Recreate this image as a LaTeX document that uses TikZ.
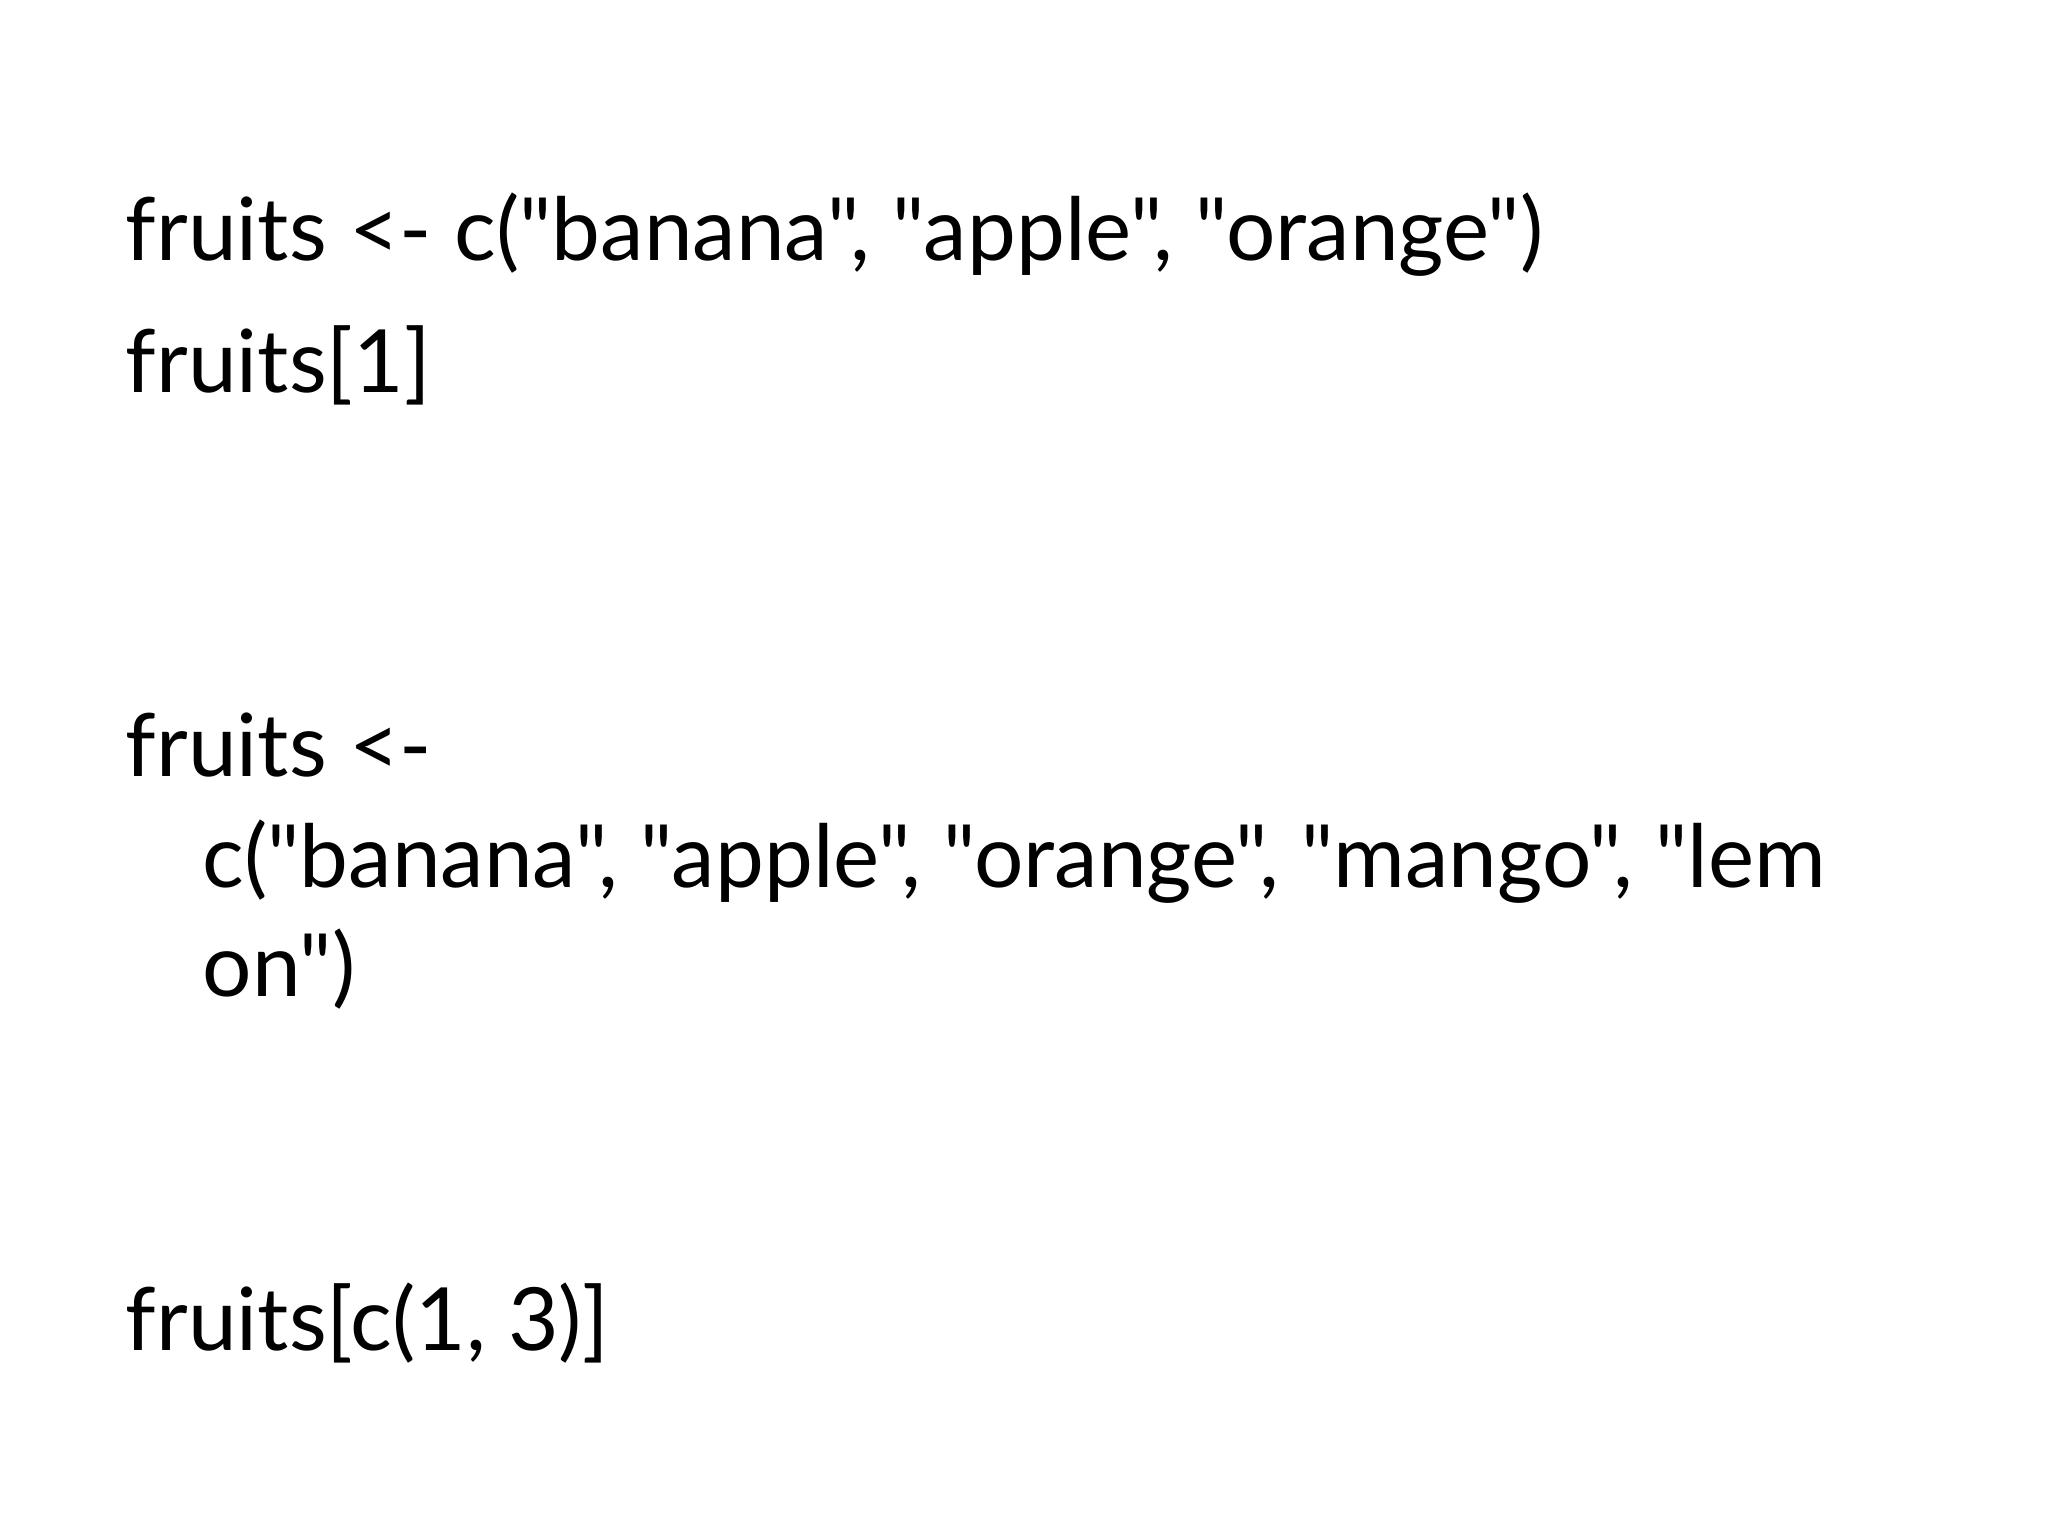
\documentclass[tikz,border=0pt]{standalone}
\usepackage{fontspec}
\setmainfont[Ligatures=TeXOff]{Lato}
\begin{document}
\begin{tikzpicture}[x=0.6606pt,y=-0.6606pt,
  code/.style={anchor=base west,inner sep=0pt,font=\fontsize{43.6}{52}\selectfont}]
\useasboundingbox (0,0) rectangle (1550,1162.5);
\node[code] (l1) at (95,197) {fruits <- c("banana", "apple", "orange")};
\node[code] (l2) at (95,297) {fruits[1]};
\node[code] (l3) at (95,588) {fruits <-};
\node[code] (l4) at (153,672) {c("banana", "apple", "orange", "mango", "lem};
\node[code] (l5) at (153,754) {on")};
\node[code] (l6) at (95,1022) {fruits[c(1, 3)]};
\end{tikzpicture}
\end{document}
